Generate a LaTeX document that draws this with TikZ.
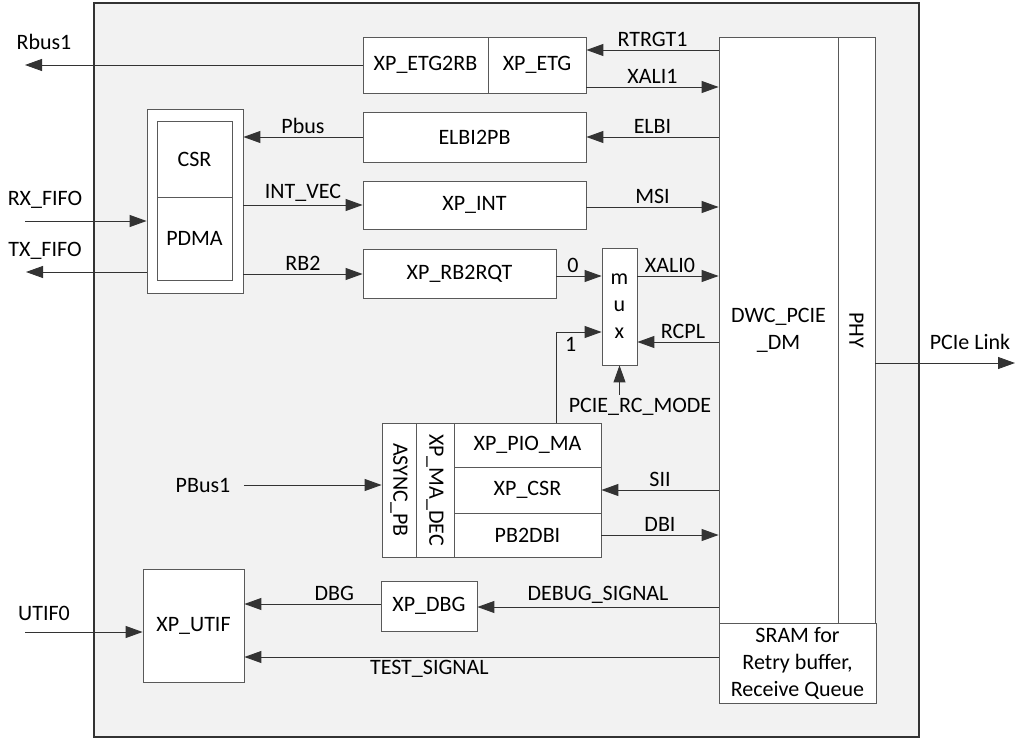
\documentclass[tikz,border=0pt]{standalone}
\usepackage{fontspec}
\setmainfont{Carlito}
\usetikzlibrary{positioning,arrows.meta,calc}
\definecolor{panelgray}{HTML}{F2F2F2}
\definecolor{boxline}{HTML}{595959}

\begin{document}
\begin{tikzpicture}[x=1pt, y=-1pt, every node/.style={font=\fontsize{22}{27}\selectfont},
    blk/.style={draw=boxline, fill=white, line width=0.8pt, inner sep=0pt, align=center},
    sig/.style={draw=black!80, line width=0.9pt, -{Triangle[length=17pt,width=12pt]}},
    lbl/.style={inner sep=3pt}]
  \useasboundingbox (0,0) rectangle (1020,738);
  \draw[draw=black!80, fill=panelgray, line width=1.3pt] (94,3) rectangle (919,737);

  % core and phy
  \node[blk, minimum width=119pt, minimum height=586pt] (dwc) at (778.5,330) {DWC\_PCIE\\\_DM};
  \node[blk, minimum width=37pt, minimum height=586pt] (phy) at (856.5,330) {\rotatebox{-90}{PHY}};
  \node[blk, minimum width=157pt, minimum height=80pt] (sram) at (797.5,663)
    {SRAM for\\Retry buffer,\\Receive Queue};

  % bridge blocks
  \node[blk, minimum width=125pt, minimum height=56pt] (etgrb) at (425.5,65) {XP\_ETG2RB};
  \node[blk, minimum width=98pt, minimum height=56pt] (etg) at (537,65) {XP\_ETG};
  \node[blk, minimum width=223pt, minimum height=50pt] (elbi) at (474.5,137) {ELBI2PB};
  \node[blk, minimum width=223pt, minimum height=48pt] (xpint) at (474.5,205) {XP\_INT};
  \node[blk, minimum width=193pt, minimum height=49pt] (rb2rqt) at (459.5,273.5) {XP\_RB2RQT};
  \node[blk, minimum width=35pt, minimum height=117pt] (mux) at (619.5,306.5) {m\\u\\x};

  % csr / pdma
  \node[blk, minimum width=96pt, minimum height=184pt] (csrbox) at (195,201) {};
  \node[blk, minimum width=75pt, minimum height=76pt] (csr) at (194.5,159) {CSR};
  \node[blk, minimum width=75pt, minimum height=83pt] (pdma) at (194.5,238.5) {PDMA};

  % pio group
  \node[blk, minimum width=34pt, minimum height=134pt] (async) at (399,490) {\rotatebox{-90}{ASYNC\_PB}};
  \node[blk, minimum width=38pt, minimum height=134pt] (madec) at (435,490) {\rotatebox{-90}{XP\_MA\_DEC}};
  \node[blk, minimum width=147pt, minimum height=44pt] (pioma) at (527.5,445) {XP\_PIO\_MA};
  \node[blk, minimum width=147pt, minimum height=46pt] (xpcsr) at (527.5,490) {XP\_CSR};
  \node[blk, minimum width=147pt, minimum height=44pt] (pb2dbi) at (527.5,535) {PB2DBI};

  % debug
  \node[blk, minimum width=101pt, minimum height=113pt] (utif) at (193.5,625.5) {XP\_UTIF};
  \node[blk, minimum width=96pt, minimum height=50pt] (dbg) at (429,606) {XP\_DBG};

  % outside ends
  \coordinate (rbusend) at (25,65);
  \coordinate (rxend) at (25,221);
  \coordinate (txend) at (26,272);
  \coordinate (utifend) at (25,632);
  \coordinate (pcieend) at (1015,363);
  \node (rbuslbl) at (44,42) {Rbus1};
  \node (rxlbl) at (45,200) {RX\_FIFO};
  \node (txlbl) at (45,251) {TX\_FIFO};
  \node (utiflbl) at (44,613) {UTIF0};
  \node (pcielbl) at (970,342) {PCIe Link};
  \node (pbuslbl) at (203,485) {PBus1};
  \node (rcmode) at (640,407) {PCIE\_RC\_MODE};

  % connectors
  \draw[sig] (dwc.west |- 0,50) -- node[lbl, above] {RTRGT1} (etg.east |- 0,50);
  \draw[sig] (etg.east |- 0,87) -- node[lbl, above] {XALI1} (dwc.west |- 0,87);
  \draw[sig] (etgrb.west) -- (rbusend);
  \draw[sig] (dwc.west |- elbi.east) -- node[lbl, above] {ELBI} (elbi.east);
  \draw[sig] (elbi.west) -- node[lbl, above] {Pbus} (csrbox.east |- elbi.west);
  \draw[sig] (csrbox.east |- xpint.west) -- node[lbl, above] {INT\_VEC} (xpint.west);
  \draw[sig] (xpint.east |- 0,207) -- node[lbl, above] {MSI} (dwc.west |- 0,207);
  \draw[sig] (csrbox.east |- 0,274) -- node[lbl, above] {RB2} (rb2rqt.west |- 0,274);
  \draw[sig] (rb2rqt.east |- 0,276) -- node[lbl, above, xshift=-6pt] {0} (mux.west |- 0,276);
  \draw[sig] (mux.east |- 0,276) -- node[lbl, above, xshift=-8pt] {XALI0} (dwc.west |- 0,276);
  \draw[sig] (dwc.west |- 0,342) -- node[lbl, above, xshift=5pt] {RCPL} (mux.east |- 0,342);
  \draw[sig] (pioma.north -| 556,0) |- node[lbl, pos=0.66, below, yshift=-2pt] {1} (mux.west |- 0,332);
  \draw[sig] (rcmode.north -| mux.south) -- (mux.south);
  \draw[sig] (dwc.west |- xpcsr.east) -- node[lbl, above] {SII} (xpcsr.east);
  \draw[sig] (pb2dbi.east) -- node[lbl, above] {DBI} (dwc.west |- pb2dbi.east);
  \draw[sig] ([xshift=10pt]pbuslbl.east) -- (async.west |- pbuslbl.east);
  \draw[sig] (dwc.west |- 0,607) -- node[lbl, above] {DEBUG\_SIGNAL} (dbg.east |- 0,607);
  \draw[sig] (dbg.west |- 0,604) -- node[lbl, above, pos=0.34] {DBG} (utif.east |- 0,604);
  \draw[sig] (sram.west |- 0,657) -- node[lbl, below, pos=0.61] {TEST\_SIGNAL} (utif.east |- 0,657);
  \draw[sig] (utifend) -- (utif.west |- utifend);
  \draw[sig] (rxend) -- (csrbox.west |- rxend);
  \draw[sig] (csrbox.west |- txend) -- (txend);
  \draw[sig] (phy.east |- pcieend) -- (pcieend);
\end{tikzpicture}
\end{document}
